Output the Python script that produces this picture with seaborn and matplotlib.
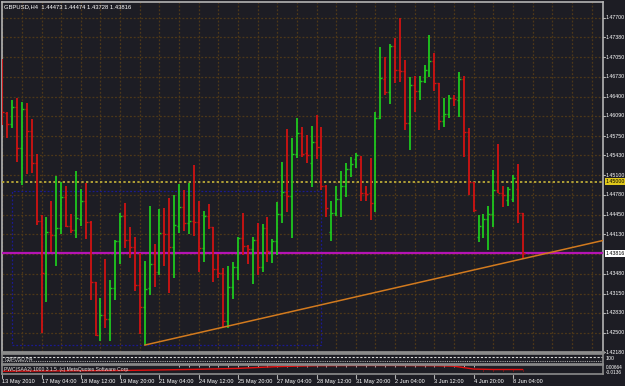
import numpy as np
import pandas as pd
import matplotlib
matplotlib.use("Agg")
import matplotlib.pyplot as plt
import matplotlib.transforms as mtransforms
from matplotlib.patches import Rectangle
import seaborn as sns

# ---------------- data ----------------
title_text = "GBPUSD,H4  1.44473 1.44474 1.43728 1.43816"

opens = [1.4697, 1.4613, 1.4595, 1.4623, 1.4555, 1.4620, 1.4583, 1.4531, 1.4435, 1.4349,
         1.4417, 1.4412, 1.4423, 1.4474, 1.4427, 1.4420, 1.4438, 1.4468, 1.4433, 1.4334,
         1.4247, 1.4280, 1.4273, 1.4324, 1.4402, 1.4443, 1.4403, 1.4392, 1.4329, 1.4293,
         1.4324, 1.4364, 1.4351, 1.4415, 1.4413, 1.4392, 1.4427, 1.4458, 1.4432, 1.4435,
         1.4433, 1.4390, 1.4443, 1.4425, 1.4356, 1.4349, 1.4270, 1.4326, 1.4359, 1.4407,
         1.4394, 1.4389, 1.4403, 1.4359, 1.4423, 1.4385, 1.4402, 1.4446, 1.4483, 1.4476,
         1.4545, 1.4580, 1.4547, 1.4531, 1.4565, 1.4557, 1.4493, 1.4417, 1.4448, 1.4471,
         1.4493, 1.4521, 1.4537, 1.4537, 1.4481, 1.4481, 1.4465, 1.4605, 1.4669, 1.4648,
         1.4724, 1.4684, 1.4683, 1.4597, 1.4659, 1.4650, 1.4666, 1.4684, 1.4699, 1.4663,
         1.4600, 1.4612, 1.4638, 1.4635, 1.4669, 1.4582, 1.4499, 1.4408, 1.4425, 1.4438,
         1.4446, 1.4486, 1.4481, 1.4470, 1.4471, 1.4488, 1.44473]
highs = [1.4702, 1.4615, 1.4635, 1.4638, 1.4631, 1.4630, 1.4603, 1.4545, 1.4445, 1.4441,
         1.4468, 1.4509, 1.4499, 1.4493, 1.4446, 1.4517, 1.4488, 1.4498, 1.4435, 1.4334,
         1.4308, 1.4372, 1.4337, 1.4403, 1.4448, 1.4465, 1.4425, 1.4408, 1.4382, 1.4369,
         1.4460, 1.4397, 1.4455, 1.4456, 1.4473, 1.4478, 1.4496, 1.4486, 1.4498, 1.4527,
         1.4468, 1.4451, 1.4463, 1.4425, 1.4380, 1.4357, 1.4361, 1.4367, 1.4408, 1.4448,
         1.4395, 1.4408, 1.4432, 1.4430, 1.4441, 1.4405, 1.4466, 1.4532, 1.4587, 1.4572,
         1.4605, 1.4590, 1.4577, 1.4592, 1.4610, 1.4590, 1.4494, 1.4468, 1.4493, 1.4517,
         1.4531, 1.4540, 1.4547, 1.4542, 1.4493, 1.4539, 1.4615, 1.4722, 1.4706, 1.4727,
         1.4737, 1.4770, 1.4701, 1.4673, 1.4674, 1.4674, 1.4692, 1.4742, 1.4712, 1.4663,
         1.4638, 1.4643, 1.4643, 1.4681, 1.4674, 1.4588, 1.4499, 1.4445, 1.4446, 1.4460,
         1.4519, 1.4562, 1.4493, 1.4491, 1.4511, 1.4529, 1.44474]
lows = [1.4593, 1.4572, 1.4588, 1.4532, 1.4494, 1.4512, 1.4514, 1.4428, 1.4250, 1.4301,
        1.4384, 1.4361, 1.4413, 1.4425, 1.4415, 1.4407, 1.4427, 1.4405, 1.4304, 1.4245,
        1.4237, 1.4258, 1.4237, 1.4304, 1.4364, 1.4390, 1.4374, 1.4319, 1.4248, 1.4230,
        1.4313, 1.4326, 1.4346, 1.4361, 1.4316, 1.4341, 1.4415, 1.4418, 1.4413, 1.4410,
        1.4351, 1.4367, 1.4422, 1.4334, 1.4341, 1.4260, 1.4258, 1.4306, 1.4337, 1.4379,
        1.4364, 1.4331, 1.4346, 1.4351, 1.4367, 1.4366, 1.4379, 1.4432, 1.4450, 1.4407,
        1.4539, 1.4540, 1.4531, 1.4491, 1.4537, 1.4486, 1.4441, 1.4402, 1.4443, 1.4441,
        1.4474, 1.4507, 1.4522, 1.4468, 1.4468, 1.4437, 1.4450, 1.4603, 1.4643, 1.4628,
        1.4663, 1.4664, 1.4585, 1.4552, 1.4615, 1.4635, 1.4663, 1.4673, 1.4650, 1.4585,
        1.4590, 1.4605, 1.4625, 1.4607, 1.4540, 1.4478, 1.4450, 1.4400, 1.4407, 1.4387,
        1.4425, 1.4481, 1.4458, 1.4460, 1.4466, 1.4432, 1.43728]
closes = [1.4615, 1.4595, 1.4623, 1.4555, 1.4620, 1.4583, 1.4531, 1.4435, 1.4349, 1.4417,
          1.4412, 1.4423, 1.4474, 1.4427, 1.4420, 1.4440, 1.4468, 1.4433, 1.4334, 1.4247,
          1.4280, 1.4273, 1.4324, 1.4402, 1.4443, 1.4403, 1.4392, 1.4329, 1.4293, 1.4323,
          1.4364, 1.4351, 1.4415, 1.4413, 1.4392, 1.4428, 1.4458, 1.4432, 1.4435, 1.4433,
          1.4390, 1.4443, 1.4425, 1.4356, 1.4349, 1.4270, 1.4326, 1.4359, 1.4407, 1.4394,
          1.4389, 1.4403, 1.4359, 1.4423, 1.4385, 1.4402, 1.4446, 1.4483, 1.4476, 1.4545,
          1.4580, 1.4545, 1.4544, 1.4565, 1.4557, 1.4493, 1.4456, 1.4448, 1.4471, 1.4493,
          1.4521, 1.4529, 1.4544, 1.4481, 1.4479, 1.4465, 1.4605, 1.4671, 1.4648, 1.4724,
          1.4684, 1.4683, 1.4597, 1.4659, 1.4650, 1.4666, 1.4684, 1.4699, 1.4663, 1.4600,
          1.4612, 1.4638, 1.4636, 1.4669, 1.4582, 1.4499, 1.4453, 1.4427, 1.4438, 1.4446,
          1.4486, 1.4481, 1.4478, 1.4488, 1.4506, 1.4448, 1.43816]

price_ticks = [1.47700, 1.47380, 1.47050, 1.46730, 1.46400, 1.46090, 1.45750, 1.45430,
               1.45100, 1.44780, 1.44450, 1.44130, 1.43800, 1.43480, 1.43150, 1.42830,
               1.42500, 1.42180]
price_labels = ["1.47700", "1.47380", "1.47050", "1.46730", "1.46400", "1.46090", "1.45750",
                "1.45430", "1.45100", "1.44780", "1.44450", "1.44130", "", "1.43480",
                "1.43150", "1.42830", "1.42500", "1.42180"]
date_tick_idx = [0, 8, 16, 24, 32, 40, 48, 56, 64, 72, 80, 88, 96, 104]
date_labels = ["13 May 2010", "17 May 04:00", "18 May 12:00", "19 May 20:00", "21 May 04:00",
               "24 May 12:00", "25 May 20:00", "27 May 04:00", "28 May 12:00", "31 May 20:00",
               "2 Jun 04:00", "3 Jun 12:00", "4 Jun 20:00", "8 Jun 04:00"]
bid_price = 1.43816
level_price = 1.45000
trend_idx = [29, 106]
trend_price = [1.4230, 1.43725]
rect_idx = [2, 65]
rect_price = [1.42301, 1.44844]
ind_idx = [0, 8, 16, 24, 32, 40, 48, 56, 64, 72, 80, 88, 92, 96, 100, 104, 106]
ind_vals = [-0.0073, -0.0068, -0.0063, -0.0058, -0.0045, -0.0030, -0.0010, 0.0030,
            0.0050, 0.0055, 0.0055, 0.0050, 0.0040, -0.0025, -0.0035, -0.0035, -0.0036]

# ---------------- style ----------------
sns.set_theme(style="dark")
plt.rcParams["font.family"] = ["Liberation Sans", "DejaVu Sans"]
BG = "#1d1d24"
GRID = "#4d3819"
GREEN = "#1ec81e"
RED = "#d01212"
BORDER = "#b4b4b4"
FS = 4.1

W, H = 625, 386
fig = plt.figure(figsize=(W / 100, H / 100), dpi=100)
fig.patch.set_facecolor(BG)

def box(l, t, r, b):
    return [l / W, 1 - b / H, (r - l) / W, (b - t) / H]

ax = fig.add_axes(box(2, 2, 603, 352))
ax.set_facecolor(BG)
xlim = (-0.06, 122.34)
ax.set_xlim(*xlim)
ax.set_ylim(1.42186, 1.47964)

df = pd.DataFrame({"i": np.arange(len(opens)), "o": opens, "h": highs, "l": lows, "c": closes})
df["col"] = np.where(df["c"] >= df["o"], GREEN, RED)

# grid
for p in price_ticks:
    ax.axhline(p, color=GRID, lw=0.9, ls=(0, (1.5, 1.5)), zorder=1)
for gx in range(0, 124, 4):
    ax.axvline(gx, color=GRID, lw=0.9, ls=(0, (1.5, 1.5)), zorder=1)

# rectangle object
ax.add_patch(Rectangle((rect_idx[0], rect_price[0]), rect_idx[1] - rect_idx[0],
                       rect_price[1] - rect_price[0], fill=False, ec="#1a1a90",
                       lw=0.9, ls=(0, (1.5, 1.5)), zorder=2))

# OHLC bars
ax.vlines(df["i"], df["l"], df["h"], colors=df["col"], lw=1.3, zorder=4)
ax.hlines(df["o"], df["i"] - 0.4, df["i"], colors=df["col"], lw=1.0, zorder=4)
ax.hlines(df["c"], df["i"], df["i"] + 0.4, colors=df["col"], lw=1.0, zorder=4)

# horizontal lines
ax.axhline(level_price, color="#b0a036", lw=1.4, ls=(0, (1.2, 1.2)), zorder=3)
ax.axhline(bid_price, color="#b414b4", lw=1.6, zorder=3)

# trendline (ray to the right)
slope = (trend_price[1] - trend_price[0]) / (trend_idx[1] - trend_idx[0])
tx = [trend_idx[0], xlim[1]]
ty = [trend_price[0], trend_price[0] + slope * (xlim[1] - trend_idx[0])]
sns.lineplot(x=tx, y=ty, ax=ax, color="#d27a1e", lw=1.1, zorder=5)

ax.set_xticks([]); ax.set_yticks([])
ax.grid(False)
for s in ["left", "top", "right"]:
    ax.spines[s].set_color(BORDER); ax.spines[s].set_linewidth(1.2)
ax.spines["bottom"].set_color("#8c8c8c"); ax.spines["bottom"].set_linewidth(2)

# right price scale
tr = mtransforms.blended_transform_factory(ax.transAxes, ax.transData)
for p, lab in zip(price_ticks, price_labels):
    if lab:
        ax.plot([1.0, 1.004], [p, p], color=BORDER, lw=0.8, transform=tr, clip_on=False)
        ax.text(1.005, p, lab, transform=tr, color="white", fontsize=3.8,
                va="center", ha="left", clip_on=False)
ax.text(1.004, level_price, "1.45000", transform=tr, color="black", fontsize=3.8,
        va="center", ha="left", clip_on=False,
        bbox=dict(boxstyle="square,pad=0.15", fc="#e0c81a", ec="none"))
ax.text(1.004, bid_price, "1.43816", transform=tr, color="black", fontsize=3.8,
        va="center", ha="left", clip_on=False,
        bbox=dict(boxstyle="square,pad=0.15", fc="white", ec="none"))

fig.text(4 / W, 1 - 7 / H, title_text, color="white", fontsize=4.2, va="center", ha="left")

# sub window 1
ax1 = fig.add_axes(box(2, 354, 603, 364), sharex=ax)
ax1.set_facecolor(BG)
ax1.set_ylim(0, 1)
ax1.axhline(0.72, color="#d8d8d8", lw=0.8, ls=(0, (2, 1.5)))
ax1.axhline(0.35, color="#a8a8a8", lw=0.8, ls=(0, (1, 1)))
ax1.text(0.004, 0.55, "GBPUSD,H4", transform=ax1.transAxes, color="#cfcfcf",
         fontsize=3.6, va="center", ha="left")
ax1.text(1.004, 0.5, "100", transform=ax1.transAxes, color="white", fontsize=3.8,
         va="center", ha="left", clip_on=False)

# sub window 2
ax2 = fig.add_axes(box(2, 365, 603, 374), sharex=ax)
ax2.set_facecolor(BG)
ax2.set_ylim(-0.0136, 0.0066)
ax2.vlines(np.arange(36, 98, 2), 0.0066, 0.0030, color="#d0d0d0", lw=0.6)
ax2.vlines(np.arange(98, 107, 2), -0.0036, -0.0060, color="#e01010", lw=0.6)
sns.lineplot(x=ind_idx, y=ind_vals, ax=ax2, color="#e01010", lw=1.0)
ax2.text(0.004, 0.5, "PWC(SAA2) 1000 3 1.5  (c) MetaQuotes Software Corp.",
         transform=ax2.transAxes, color="#e0e0e0", fontsize=3.6, va="center", ha="left")
ax2.text(1.004, 0.7, "0.00664", transform=ax2.transAxes, color="white", fontsize=3.4,
         va="center", ha="left", clip_on=False)
ax2.text(1.004, 0.15, "-0.0136", transform=ax2.transAxes, color="white", fontsize=3.4,
         va="center", ha="left", clip_on=False)

for a in (ax1, ax2):
    a.set_xticks([]); a.set_yticks([]); a.grid(False)
    a.set_xlabel(""); a.set_ylabel("")
    for s in a.spines.values():
        s.set_color("#8c8c8c"); s.set_linewidth(1.2)
ax.set_xlabel(""); ax.set_ylabel("")

# date axis
trd = mtransforms.blended_transform_factory(ax.transData, fig.transFigure)
for xi, lab in zip(date_tick_idx, date_labels):
    ax.plot([xi, xi], [1 - 375 / H, 1 - 377.5 / H], color=BORDER, lw=0.8,
            transform=trd, clip_on=False)
    ax.text(xi, 1 - 381.5 / H, lab, transform=trd, color="white", fontsize=FS,
            va="center", ha="left", clip_on=False)

fig.savefig("out.png", dpi=100, facecolor=BG)
